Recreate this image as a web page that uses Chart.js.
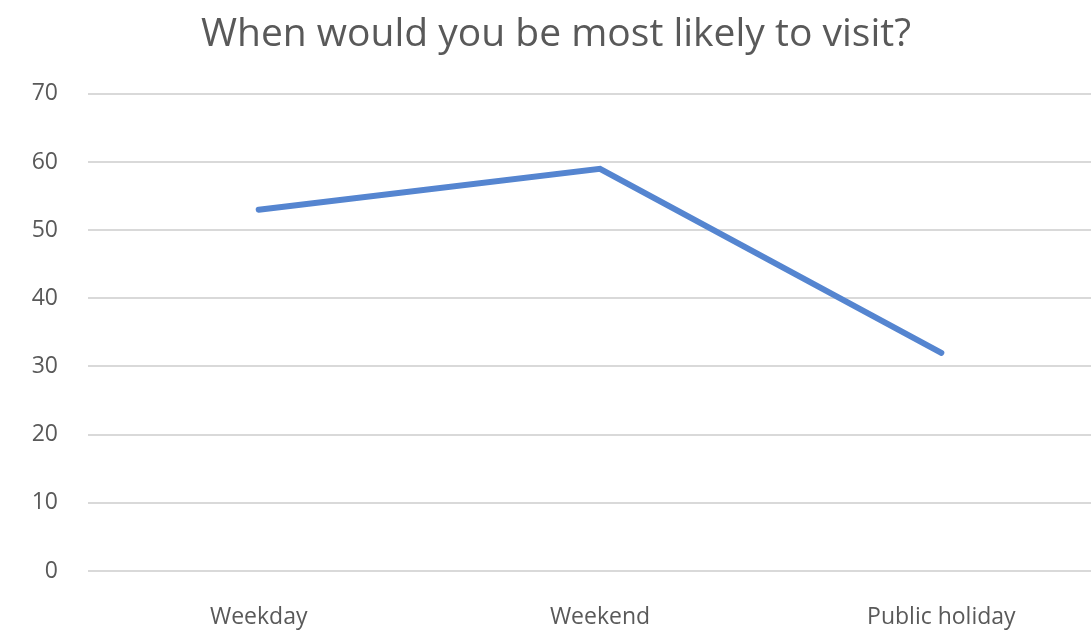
<!DOCTYPE html>
<html>
<head>
<meta charset="utf-8">
<script src="https://cdn.jsdelivr.net/npm/chart.js@4.4.0/dist/chart.umd.min.js"></script>
<style>
  html, body { margin: 0; padding: 0; background: #fff; overflow: hidden; }
  #wrap { width: 1140px; height: 637px; }
</style>
</head>
<body>
<div id="wrap"><canvas id="chart"></canvas></div>
<script>
const categories = ['Weekday', 'Weekend', 'Public holiday'];
const visits = [53, 59, 32];
const chartTitle = 'When would you be most likely to visit?';

const textColor = '#595959';
const fontFamily = "'Open Sans', 'Noto Sans', sans-serif";

new Chart(document.getElementById('chart').getContext('2d'), {
  type: 'line',
  data: {
    labels: categories,
    datasets: [{
      label: 'Visits',
      data: visits,
      borderColor: '#5585d0',
      borderWidth: 6,
      borderCapStyle: 'round',
      borderJoinStyle: 'miter',
      pointRadius: 0,
      tension: 0,
      fill: false
    }]
  },
  options: {
    responsive: true,
    maintainAspectRatio: false,
    animation: false,
    layout: { padding: { left: 0, right: 28, top: 0, bottom: 0 } },
    plugins: {
      legend: { display: false },
      tooltip: { enabled: false },
      title: {
        display: true,
        text: chartTitle,
        color: textColor,
        font: { family: fontFamily, size: 39, weight: 'normal' },
        padding: { top: 11, bottom: 36 }
      }
    },
    scales: {
      x: {
        offset: true,
        grid: { display: false, drawTicks: false },
        border: { display: false },
        ticks: { color: textColor, font: { family: fontFamily, size: 23 }, padding: 33, maxRotation: 0 },
        afterFit: s => { s.height = 66; }
      },
      y: {
        min: 0,
        max: 70,
        ticks: { stepSize: 10, color: textColor, font: { family: fontFamily, size: 23 }, padding: 30 },
        grid: { color: '#d9d9d9', lineWidth: 2, drawTicks: false },
        border: { display: false },
        afterFit: s => { s.width = 88; }
      }
    }
  }
});
</script>
</body>
</html>
